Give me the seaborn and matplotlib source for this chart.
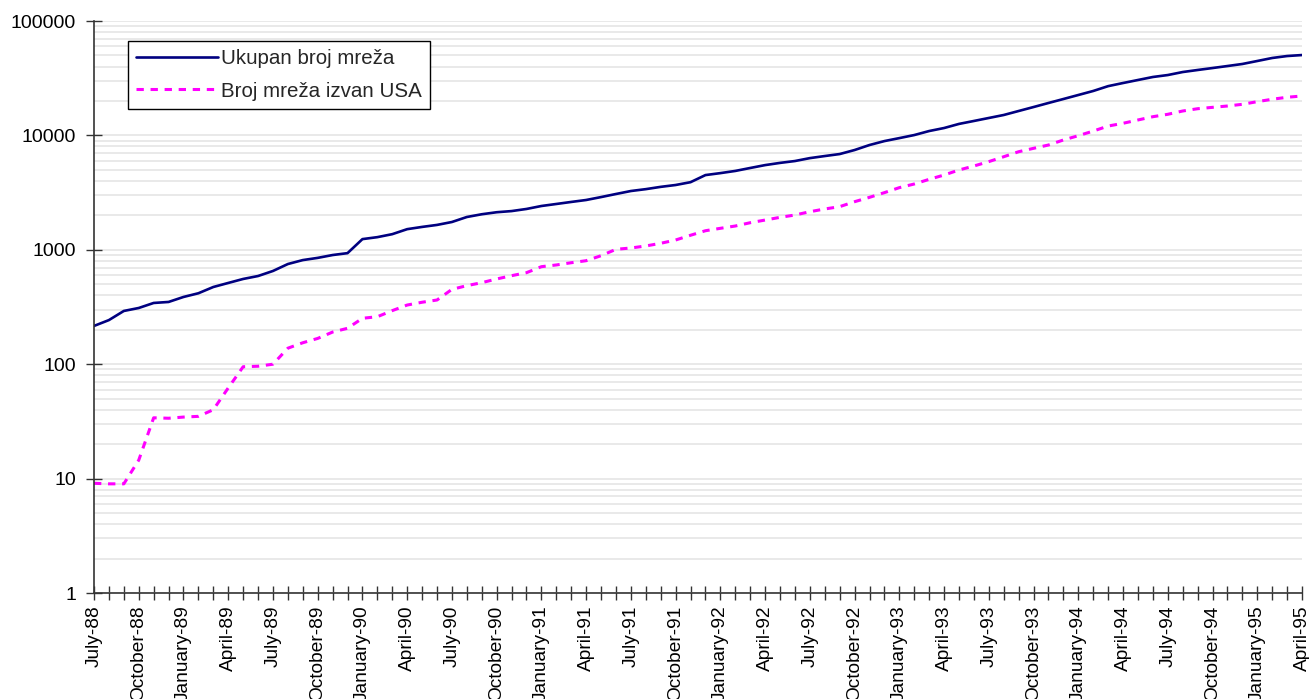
import matplotlib
matplotlib.use("Agg")
import matplotlib.pyplot as plt
import matplotlib.ticker as mticker
import numpy as np
import pandas as pd
import seaborn as sns

# Monthly series, July 1988 .. April 1995
months = pd.date_range("1988-07-01", "1995-04-01", freq="MS")
month_names = ["January", "February", "March", "April", "May", "June", "July",
               "August", "September", "October", "November", "December"]

total_networks = [
    216, 243, 292, 310, 343, 350, 387, 417, 473, 513,
    556, 590, 653, 751, 813, 850, 900, 935, 1240, 1290,
    1370, 1515, 1585, 1650, 1750, 1935, 2045, 2130, 2180, 2275,
    2415, 2515, 2620, 2725, 2890, 3075, 3265, 3390, 3550, 3685,
    3900, 4500, 4680, 4890, 5190, 5500, 5750, 5970, 6330, 6600,
    6870, 7450, 8240, 8920, 9470, 10070, 10920, 11600, 12600, 13370,
    14200, 15080, 16340, 17700, 19200, 20800, 22550, 24450, 26950, 28700,
    30500, 32400, 33700, 35800, 37300, 38800, 40400, 42100, 44700, 47500,
    49400, 50400,
]
non_usa_networks = [
    9.1, 9, 9, 14.5, 34, 33.7, 34.5, 35, 40, 62,
    95, 96, 100, 138, 154, 168, 191, 206, 252, 260,
    294, 329, 348, 364, 451, 486, 516, 556, 594, 631,
    712, 737, 771, 803, 888, 1010, 1037, 1080, 1140, 1218,
    1340, 1468, 1541, 1614, 1725, 1820, 1922, 2014, 2153, 2274,
    2383, 2633, 2875, 3160, 3494, 3760, 4130, 4505, 4985, 5400,
    5900, 6510, 7200, 7710, 8240, 9120, 9940, 10910, 12070, 12760,
    13640, 14570, 15290, 16340, 17110, 17590, 18070, 18700, 19720, 20700,
    21550, 22100,
]
series_labels = ["Ukupan broj mreža", "Broj mreža izvan USA"]
y_ticks = [1, 10, 100, 1000, 10000, 100000]

df = pd.DataFrame({
    "idx": np.arange(len(months)),
    "total": total_networks,
    "non_usa": non_usa_networks,
})
tick_labels = [f"{month_names[d.month - 1]}-{d.year % 100:02d}" for d in months]

sns.set_theme(style="white")
plt.rcParams["font.family"] = ["Liberation Sans", "DejaVu Sans"]

fig = plt.figure(figsize=(13.09, 6.99), dpi=100)
ax = fig.add_axes([94 / 1309, 1 - 593 / 699, (1302 - 94) / 1309, (593 - 21) / 699])

sns.lineplot(data=df, x="idx", y="total", ax=ax, color="#000080",
             linewidth=1.9, label=series_labels[0])
sns.lineplot(data=df, x="idx", y="non_usa", ax=ax, color="#FF00FF",
             linewidth=2.2, linestyle=(0, (2.4, 2.2)), label=series_labels[1])

ax.set_yscale("log")
ax.set_ylim(1, 100000)
ax.set_xlim(0, len(months) - 1)

ax.yaxis.set_major_locator(mticker.FixedLocator(y_ticks))
ax.yaxis.set_major_formatter(mticker.FuncFormatter(lambda v, p: f"{int(round(v))}"))
ax.yaxis.set_minor_locator(mticker.LogLocator(base=10, subs=np.arange(2, 10)))
ax.yaxis.set_minor_formatter(mticker.NullFormatter())
ax.grid(True, which="both", axis="y", color="#e3e3e3", linewidth=1.1)
ax.set_axisbelow(True)

ax.set_xticks(np.arange(len(months)))
ax.set_xticklabels([lbl if i % 3 == 0 else "" for i, lbl in enumerate(tick_labels)],
                   rotation=90, fontsize=13.8)
ax.tick_params(axis="x", which="major", bottom=True, direction="inout", length=10,
               width=1, color="#333333", pad=4, labelcolor="black")
ax.tick_params(axis="y", which="major", left=True, direction="inout", length=12,
               width=1, color="#333333", pad=7, labelsize=14, labelcolor="black")
ax.tick_params(axis="y", which="minor", left=False, length=0)

for side in ["top", "right"]:
    ax.spines[side].set_visible(False)
for side in ["left", "bottom"]:
    ax.spines[side].set_color("#333333")
    ax.spines[side].set_linewidth(1.2)

ax.set_xlabel("")
ax.set_ylabel("")

leg = ax.legend(loc="upper left", bbox_to_anchor=(0.028, 0.965), fontsize=14.8,
                frameon=True, fancybox=False, edgecolor="black", framealpha=1,
                handlelength=4.0, handletextpad=0.15, borderpad=0.4,
                labelspacing=0.65, borderaxespad=0)
leg.get_frame().set_linewidth(1.0)

fig.savefig("out.png", dpi=100)
